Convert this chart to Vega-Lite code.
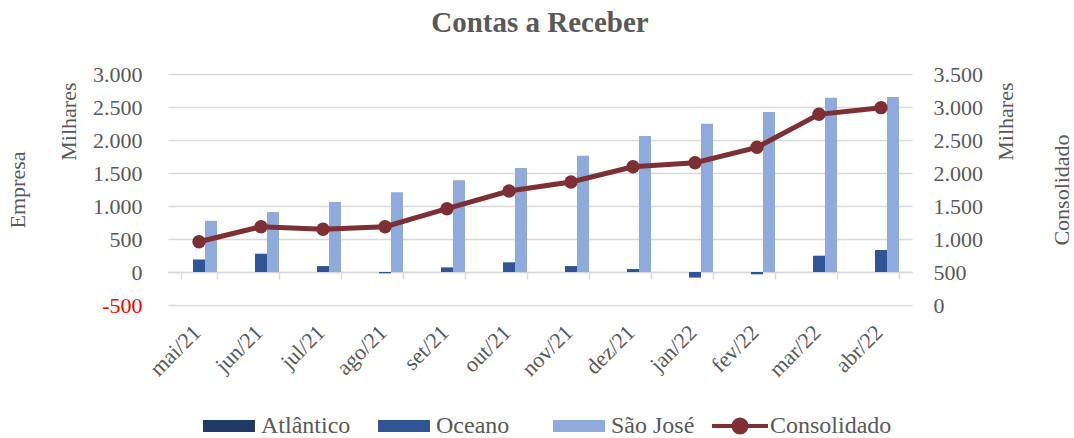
{
  "$schema": "https://vega.github.io/schema/vega-lite/v6.json",
  "width": 744,
  "height": 231,
  "autosize": "none",
  "padding": {"left": 168, "top": 74, "right": 162, "bottom": 133},
  "background": "white",
  "title": {"text": "Contas a Receber", "fontSize": 29, "font": "Liberation Serif", "fontWeight": "bold", "color": "#595959", "offset": 25, "anchor": "middle"},
  "config": {
    "view": {"stroke": null},
    "font": "Liberation Serif",
    "axis": {"labelFont": "Liberation Serif", "titleFont": "Liberation Serif"},
    "legend": {"labelFont": "Liberation Serif", "titleFont": "Liberation Serif"}
  },
  "data": {"values": [
    {"mes": "mai/21", "serie": "Atlântico", "valor": 0},
    {"mes": "jun/21", "serie": "Atlântico", "valor": 0},
    {"mes": "jul/21", "serie": "Atlântico", "valor": 0},
    {"mes": "ago/21", "serie": "Atlântico", "valor": 0},
    {"mes": "set/21", "serie": "Atlântico", "valor": 0},
    {"mes": "out/21", "serie": "Atlântico", "valor": 0},
    {"mes": "nov/21", "serie": "Atlântico", "valor": 0},
    {"mes": "dez/21", "serie": "Atlântico", "valor": 0},
    {"mes": "jan/22", "serie": "Atlântico", "valor": 0},
    {"mes": "fev/22", "serie": "Atlântico", "valor": 0},
    {"mes": "mar/22", "serie": "Atlântico", "valor": 0},
    {"mes": "abr/22", "serie": "Atlântico", "valor": 0},
    {"mes": "mai/21", "serie": "Oceano", "valor": 190},
    {"mes": "jun/21", "serie": "Oceano", "valor": 277},
    {"mes": "jul/21", "serie": "Oceano", "valor": 90},
    {"mes": "ago/21", "serie": "Oceano", "valor": -20},
    {"mes": "set/21", "serie": "Oceano", "valor": 70},
    {"mes": "out/21", "serie": "Oceano", "valor": 147},
    {"mes": "nov/21", "serie": "Oceano", "valor": 90},
    {"mes": "dez/21", "serie": "Oceano", "valor": 45},
    {"mes": "jan/22", "serie": "Oceano", "valor": -85},
    {"mes": "fev/22", "serie": "Oceano", "valor": -35},
    {"mes": "mar/22", "serie": "Oceano", "valor": 247},
    {"mes": "abr/22", "serie": "Oceano", "valor": 333},
    {"mes": "mai/21", "serie": "São José", "valor": 775},
    {"mes": "jun/21", "serie": "São José", "valor": 909},
    {"mes": "jul/21", "serie": "São José", "valor": 1061},
    {"mes": "ago/21", "serie": "São José", "valor": 1207},
    {"mes": "set/21", "serie": "São José", "valor": 1389},
    {"mes": "out/21", "serie": "São José", "valor": 1576},
    {"mes": "nov/21", "serie": "São José", "valor": 1762},
    {"mes": "dez/21", "serie": "São José", "valor": 2060},
    {"mes": "jan/22", "serie": "São José", "valor": 2245},
    {"mes": "fev/22", "serie": "São José", "valor": 2425},
    {"mes": "mar/22", "serie": "São José", "valor": 2640},
    {"mes": "abr/22", "serie": "São José", "valor": 2650},
    {"mes": "mai/21", "serie": "Consolidado", "valor": 959},
    {"mes": "jun/21", "serie": "Consolidado", "valor": 1186},
    {"mes": "jul/21", "serie": "Consolidado", "valor": 1147},
    {"mes": "ago/21", "serie": "Consolidado", "valor": 1186},
    {"mes": "set/21", "serie": "Consolidado", "valor": 1459},
    {"mes": "out/21", "serie": "Consolidado", "valor": 1727},
    {"mes": "nov/21", "serie": "Consolidado", "valor": 1864},
    {"mes": "dez/21", "serie": "Consolidado", "valor": 2095},
    {"mes": "jan/22", "serie": "Consolidado", "valor": 2156},
    {"mes": "fev/22", "serie": "Consolidado", "valor": 2389},
    {"mes": "mar/22", "serie": "Consolidado", "valor": 2889},
    {"mes": "abr/22", "serie": "Consolidado", "valor": 2990}
  ]},
  "layer": [
    {
      "transform": [{"filter": "datum.serie !== 'Consolidado'"}],
      "mark": {"type": "bar"},
      "encoding": {
        "x": {
          "field": "mes", "type": "nominal",
          "scale": {"domain": ["mai/21","jun/21","jul/21","ago/21","set/21","out/21","nov/21","dez/21","jan/22","fev/22","mar/22","abr/22"], "paddingInner": 0.42, "paddingOuter": 0.21},
          "axis": {"title": null, "orient": "bottom", "offset": -33, "domainColor": "#D9D9D9", "domainWidth": 1.5, "ticks": true, "tickBand": "extent", "tickSize": 7, "tickColor": "#D9D9D9", "tickWidth": 1.5, "labelAngle": -45, "labelBaseline": "bottom", "labelOffset": 6, "labelFontSize": 22, "labelColor": "#595959", "labelPadding": 58, "grid": false}
        },
        "xOffset": {"field": "serie", "type": "nominal", "scale": {"domain": ["Atlântico", "Oceano", "São José"], "paddingInner": 0, "paddingOuter": 0}},
        "y": {
          "field": "valor", "type": "quantitative",
          "scale": {"domain": [-500, 3000], "nice": false, "zero": false},
          "axis": {"orient": "left", "values": [-500, 0, 500, 1000, 1500, 2000, 2500, 3000], "grid": true, "gridColor": "#D9D9D9", "gridWidth": 1.5, "domain": false, "ticks": false, "labelExpr": "(datum.value < 0 ? '-' : '') + replace(format(abs(datum.value), ','), ',', '.')", "labelColor": {"condition": {"test": "datum.value < 0", "value": "#FF0000"}, "value": "#595959"}, "labelFontSize": 22, "labelPadding": 26, "title": "Milhares", "titleAngle": -90, "titleY": 8, "titleAlign": "right", "titleFontSize": 22, "titleFontWeight": "normal", "titleColor": "#595959", "titlePadding": 12}
        },
        "color": {
          "field": "serie", "type": "nominal",
          "scale": {"domain": ["Atlântico", "Oceano", "São José"], "range": ["#1F3864", "#2F5597", "#8FAADC"]},
          "legend": {
            "title": null, "orient": "none", "legendX": 49, "legendY": 340, "padding": 0, "direction": "horizontal", "columns": 3, "gridAlign": "all", "columnPadding": 27,
            "labelFontSize": 24, "labelColor": "#595959", "labelFont": "Liberation Serif", "symbolSize": 144, "labelOffset": 20,
            "symbolType": "M-4.33,-1H4.33V1H-4.33Z", "symbolStrokeWidth": 0,
            "encode": {"labels": {"update": {"font": {"value": "Liberation Serif"}}}}
          }
        }
      }
    },
    {
      "transform": [{"filter": "datum.serie === 'Consolidado'"}],
      "mark": {"type": "line", "strokeWidth": 5, "point": {"filled": true, "size": 180, "opacity": 1}},
      "encoding": {
        "x": {"field": "mes", "type": "nominal"},
        "y": {
          "field": "valor", "type": "quantitative",
          "scale": {"domain": [0, 3500], "nice": false, "zero": false},
          "axis": {"orient": "right", "values": [0, 500, 1000, 1500, 2000, 2500, 3000, 3500], "grid": false, "domain": false, "ticks": false, "labelExpr": "replace(format(datum.value, ','), ',', '.')", "labelColor": "#595959", "labelFontSize": 22, "labelPadding": 21, "title": "Milhares", "titleAngle": -90, "titleY": 8, "titleAlign": "right", "titleFontSize": 22, "titleFontWeight": "normal", "titleColor": "#595959", "titlePadding": 35}
        },
        "color": {
          "field": "serie", "type": "nominal",
          "scale": {"domain": ["Consolidado"], "range": ["#7E2F33"]},
          "legend": {
            "title": null, "orient": "none", "legendX": 560, "legendY": 340, "padding": 0,
            "labelFontSize": 24, "labelColor": "#595959", "labelFont": "Liberation Serif", "symbolSize": 144, "labelOffset": 18,
            "symbolType": "M-4.67,0H4.67M-1.1,0A1.1,1.1,0,1,1,1.1,0A1.1,1.1,0,1,1,-1.1,0Z", "symbolStrokeWidth": 4,
            "encode": {
              "labels": {"update": {"font": {"value": "Liberation Serif"}}},
              "symbols": {"update": {"fill": {"value": "#7E2F33"}, "stroke": {"value": "#7E2F33"}, "strokeWidth": {"value": 4}, "opacity": {"value": 1}}}
            }
          }
        }
      }
    },
    {
      "transform": [{"filter": "datum.serie === 'Oceano'"}],
      "mark": {"type": "point", "opacity": 0},
      "encoding": {
        "x": {"field": "mes", "type": "nominal"},
        "y": {
          "field": "valor", "type": "quantitative",
          "scale": {"domain": [-500, 3000], "nice": false, "zero": false},
          "axis": {"orient": "left", "offset": 135, "grid": false, "domain": false, "ticks": false, "labels": false, "title": "Empresa", "titleAngle": -90, "titleFontSize": 22, "titleFontWeight": "normal", "titleColor": "#595959", "titlePadding": 4}
        }
      }
    },
    {
      "transform": [{"filter": "datum.serie === 'Consolidado'"}],
      "mark": {"type": "point", "opacity": 0},
      "encoding": {
        "x": {"field": "mes", "type": "nominal"},
        "y": {
          "field": "valor", "type": "quantitative",
          "scale": {"domain": [0, 3500], "nice": false, "zero": false},
          "axis": {"orient": "right", "offset": 157, "grid": false, "domain": false, "ticks": false, "labels": false, "title": "Consolidado", "titleAngle": -90, "titleFontSize": 22, "titleFontWeight": "normal", "titleColor": "#595959", "titlePadding": 4}
        }
      }
    }
  ],
  "resolve": {"scale": {"y": "independent", "color": "independent"}, "axis": {"y": "independent"}, "legend": {"color": "independent"}}
}
